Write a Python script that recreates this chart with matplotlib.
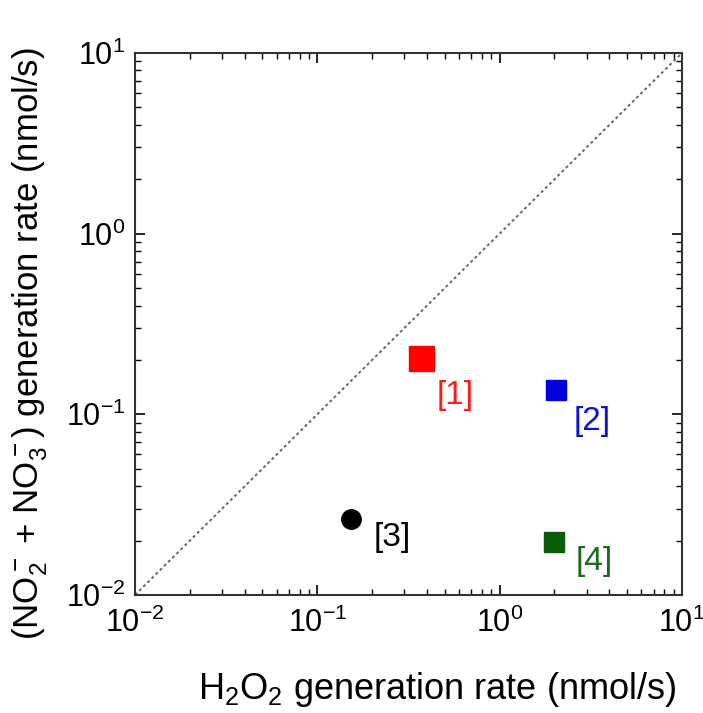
import matplotlib
matplotlib.use('Agg')
import matplotlib.pyplot as plt

plt.rcParams['font.family'] = ['Liberation Sans', 'DejaVu Sans']
plt.rcParams['mathtext.fontset'] = 'custom'
plt.rcParams['mathtext.rm'] = 'Liberation Sans'
plt.rcParams['mathtext.it'] = 'Liberation Sans'
plt.rcParams['mathtext.default'] = 'regular'

# data (nmol/s)
h2o2_rate = [0.37, 2.03, 0.153, 1.98]
nox_rate = [0.206, 0.137, 0.0263, 0.0196]
labels = ['[1]', '[2]', '[3]', '[4]']
colors = ['#ff0000', '#0000dd', '#000000', '#0a5c0a']
text_colors = ['#ff1a1a', '#1010dd', '#000000', '#1f6a1f']
markers = ['s', 's', 'o', 's']
sizes = [18, 14, 14, 14]
offsets = [(25, -27), (26, -23), (30, -13), (29, -14)]

limits = [1e-2, 1e1]
decade_ticks = [1e-2, 1e-1, 1e0, 1e1]
tick_labels = ['10$^{-2}$', '10$^{-1}$', '10$^{0}$', '10$^{1}$']

fig = plt.figure(figsize=(7.03, 7.13), dpi=100)
ax = fig.add_axes([0.192, 0.1655, 0.778, 0.7602])

ax.plot(limits, limits, color='#666666', linestyle=(0, (1.5, 1.5)), linewidth=1.4)

for x, y, lab, c, tc, m, s, off in zip(h2o2_rate, nox_rate, labels, colors,
                                       text_colors, markers, sizes, offsets):
    ax.plot([x], [y], marker=m, color=c, markersize=s, linestyle='none')
    ax.annotate(lab, (x, y), xytext=off, textcoords='offset points',
                color=tc, fontsize=24, ha='center', va='center')

ax.set_xscale('log')
ax.set_yscale('log')
ax.set_xlim(limits)
ax.set_ylim(limits)
ax.set_xticks(decade_ticks)
ax.set_xticklabels(tick_labels)
ax.set_yticks(decade_ticks)
ax.set_yticklabels(tick_labels)

ax.tick_params(which='both', direction='in', top=True, right=True, labelsize=22)
ax.tick_params(which='major', length=7, width=1.2)
ax.tick_params(which='minor', length=4, width=1.0)
ax.tick_params(axis='x', which='major', pad=9)
ax.tick_params(axis='y', which='major', pad=7)
for sp in ax.spines.values():
    sp.set_linewidth(1.5)
    sp.set_color('#333333')

ax.set_xlabel('H$_2$O$_2$ generation rate (nmol/s)', fontsize=26)
ax.xaxis.set_label_coords(0.552, -0.138)
ax.set_ylabel('(NO$_2^-$ + NO$_3^-$) generation rate (nmol/s)', fontsize=25)
ax.yaxis.set_label_coords(-0.155, 0.463)

fig.savefig('out.png', dpi=100)
